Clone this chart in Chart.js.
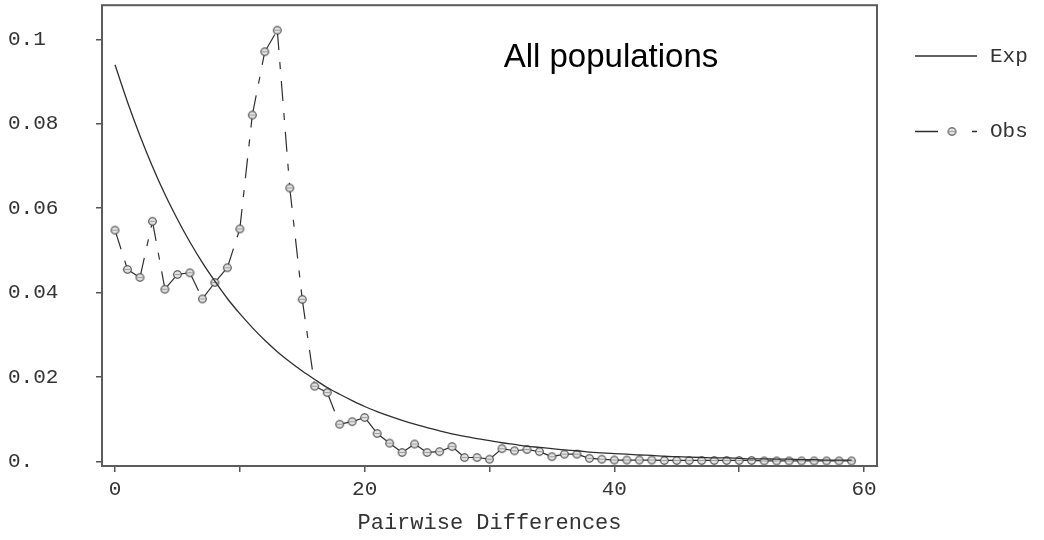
<!DOCTYPE html>
<html>
<head>
<meta charset="utf-8">
<title>All populations</title>
<script src="https://cdn.jsdelivr.net/npm/chart.js@4.4.1/dist/chart.umd.min.js"></script>
<style>
  html, body { margin: 0; padding: 0; background: #fff; }
  #wrap { width: 1044px; height: 540px; }
</style>
</head>
<body>
<div id="wrap"><canvas id="chart" width="1044" height="540"></canvas></div>
<script>
// pairwise differences 0..59
const diffs = [0, 1, 2, 3, 4, 5, 6, 7, 8, 9, 10, 11, 12, 13, 14, 15, 16, 17, 18, 19,
  20, 21, 22, 23, 24, 25, 26, 27, 28, 29, 30, 31, 32, 33, 34, 35, 36, 37, 38, 39,
  40, 41, 42, 43, 44, 45, 46, 47, 48, 49, 50, 51, 52, 53, 54, 55, 56, 57, 58, 59];

// expected distribution (smooth curve)
const expValues = [0.0940, 0.0852, 0.0772, 0.0699, 0.0633, 0.0574, 0.0520, 0.0471, 0.0427, 0.0386,
  0.0350, 0.0317, 0.0287, 0.0260, 0.0236, 0.0214, 0.0194, 0.0175, 0.0159, 0.0144,
  0.0130, 0.0118, 0.0107, 0.0097, 0.0088, 0.0080, 0.0072, 0.0065, 0.0059, 0.0054,
  0.0049, 0.0044, 0.0040, 0.0036, 0.0033, 0.0030, 0.0027, 0.0025, 0.0022, 0.0020,
  0.0018, 0.0017, 0.0015, 0.0014, 0.0012, 0.0011, 0.0010, 0.0009, 0.0008, 0.0008,
  0.0007, 0.0006, 0.0006, 0.0005, 0.0005, 0.0004, 0.0004, 0.0003, 0.0003, 0.0003];

// observed mismatch distribution
const obsValues = [0.0548, 0.0455, 0.0436, 0.0569, 0.0408, 0.0443, 0.0447, 0.0385, 0.0424, 0.0459,
  0.0551, 0.0821, 0.0971, 0.1022, 0.0648, 0.0384, 0.0178, 0.0163, 0.0088, 0.0094,
  0.0104, 0.0066, 0.0043, 0.0021, 0.0041, 0.0021, 0.0023, 0.0035, 0.0009, 0.0009,
  0.0005, 0.0030, 0.0025, 0.0028, 0.0023, 0.0011, 0.0017, 0.0017, 0.0007, 0.0005,
  0.0003, 0.0003, 0.0003, 0.0003, 0.0002, 0.0002, 0.0002, 0.0002, 0.0002, 0.0002,
  0.0002, 0.0002, 0.0001, 0.0001, 0.0001, 0.0001, 0.0001, 0.0001, 0.0001, 0.0001];

const xTicks = [0, 10, 20, 30, 40, 50, 60];
const xTickLabels = ['0', '', '20', '', '40', '', '60'];
const yTicks = [0, 0.02, 0.04, 0.06, 0.08, 0.1];
const yTickLabels = ['0.', '0.02', '0.04', '0.06', '0.08', '0.1'];

const chartTitle = 'All populations';
const xTitle = 'Pairwise Differences';
const seriesNames = ['Exp', 'Obs'];

const inkColor = '#2e2e2e';
const textColor = '#333333';
const monoFont = '"Liberation Mono", "Courier New", monospace';

// circle marker used for the observed points
function makeMarker() {
    const c = document.createElement('canvas');
    c.width = 11;
    c.height = 11;
    const g = c.getContext('2d');
    g.beginPath();
    g.arc(5.5, 5.5, 3.8, 0, Math.PI * 2);
    g.fillStyle = '#e2e2e2';
    g.fill();
    g.lineWidth = 1.1;
    g.strokeStyle = '#3a3a3a';
    g.stroke();
    g.beginPath();
    g.moveTo(3.2, 5.5);
    g.lineTo(7.8, 5.5);
    g.lineWidth = 0.8;
    g.strokeStyle = '#8a8a8a';
    g.stroke();
    return c;
}
const marker = makeMarker();
const obsDash = [20, 12, 7, 12];

// no extra room for the end labels, the frame sits right at the edges
function noLabelPadding(s) {
    s.paddingTop = 0;
    s.paddingBottom = 0;
    s.paddingLeft = 0;
    s.paddingRight = 0;
}

// frame, title inside the plot and the legend on the right
const decorations = {
    id: 'decorations',
    afterDraw(chart) {
        const { ctx, chartArea: a } = chart;
        ctx.save();
        ctx.strokeStyle = '#5c5c5c';
        ctx.lineWidth = 2;
        ctx.strokeRect(a.left, a.top, a.right - a.left, a.bottom - a.top);

        ctx.fillStyle = '#000';
        ctx.font = '33px "Liberation Sans", Arial, sans-serif';
        ctx.textAlign = 'center';
        ctx.textBaseline = 'alphabetic';
        ctx.fillText(chartTitle, 611, 67);

        // legend
        ctx.strokeStyle = inkColor;
        ctx.lineWidth = 1.3;
        ctx.beginPath();
        ctx.moveTo(915, 56);
        ctx.lineTo(977, 56);
        ctx.moveTo(915, 131.5);
        ctx.lineTo(938, 131.5);
        ctx.moveTo(972, 131.5);
        ctx.lineTo(977, 131.5);
        ctx.stroke();
        ctx.drawImage(marker, 952 - 5.5, 131.5 - 5.5);

        ctx.fillStyle = textColor;
        ctx.font = '21px ' + monoFont;
        ctx.textAlign = 'left';
        ctx.textBaseline = 'middle';
        ctx.fillText(seriesNames[0], 990, 56);
        ctx.fillText(seriesNames[1], 990, 131);
        ctx.restore();
    }
};

const ctx = document.getElementById('chart').getContext('2d');
new Chart(ctx, {
    type: 'line',
    data: {
        datasets: [{
            label: seriesNames[0],
            data: diffs.map((d, i) => ({ x: d, y: expValues[i] })),
            borderColor: inkColor,
            borderWidth: 1.3,
            pointRadius: 0,
            cubicInterpolationMode: 'monotone',
            fill: false
        }, {
            label: seriesNames[1],
            data: diffs.map((d, i) => ({ x: d, y: obsValues[i] })),
            borderColor: inkColor,
            borderWidth: 1.2,
            borderDash: obsDash,
            pointStyle: marker,
            pointRadius: 4,
            tension: 0,
            fill: false,
            // restart the dash pattern on every segment
            segment: {
                borderDashOffset: c => (c.p0DataIndex % 2) * 0.01
            }
        }]
    },
    options: {
        responsive: false,
        animation: false,
        devicePixelRatio: 1,
        layout: { padding: { left: 8, top: 5, right: 167, bottom: 0 } },
        plugins: {
            legend: { display: false },
            tooltip: { enabled: false }
        },
        scales: {
            x: {
                type: 'linear',
                min: -1.041,
                max: 61.04,
                afterFit: s => { s.height = 74; noLabelPadding(s); },
                afterBuildTicks: s => { s.ticks = xTicks.map(v => ({ value: v })); },
                border: { display: false },
                grid: { drawOnChartArea: false, drawTicks: true, tickLength: 6, color: '#555', lineWidth: 1.5 },
                ticks: {
                    autoSkip: false,
                    maxRotation: 0,
                    padding: 5,
                    color: textColor,
                    font: { family: monoFont, size: 21 },
                    callback: (v, i) => xTickLabels[i]
                },
                title: {
                    display: true,
                    text: xTitle,
                    color: textColor,
                    font: { family: monoFont, size: 22 },
                    padding: { top: 2, bottom: 4 }
                }
            },
            y: {
                type: 'linear',
                min: -0.00111,
                max: 0.10813,
                afterFit: s => { s.width = 94; noLabelPadding(s); },
                afterBuildTicks: s => { s.ticks = yTicks.map(v => ({ value: v })); },
                border: { display: false },
                grid: { drawOnChartArea: false, drawTicks: true, tickLength: 6, color: '#555', lineWidth: 1.5 },
                ticks: {
                    crossAlign: 'far',
                    color: textColor,
                    font: { family: monoFont, size: 21 },
                    callback: (v, i) => yTickLabels[i]
                }
            }
        }
    },
    plugins: [decorations]
});
</script>
</body>
</html>
